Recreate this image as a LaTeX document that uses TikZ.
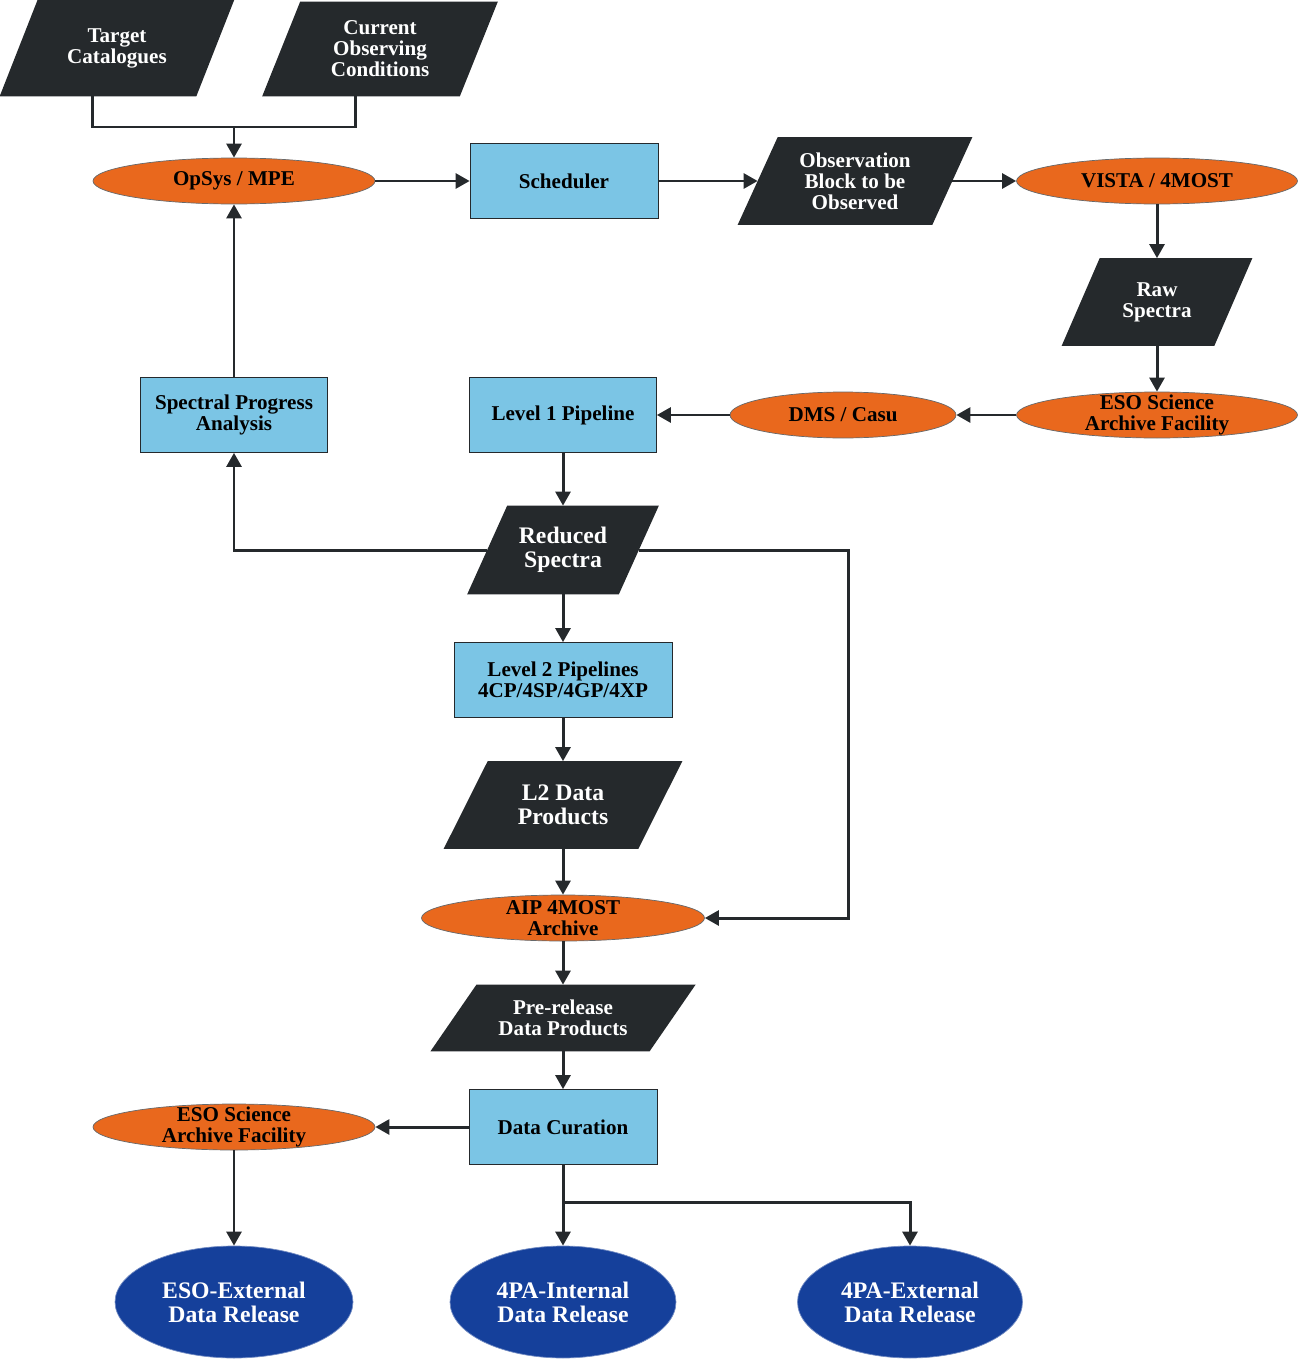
\documentclass[tikz,border=0pt]{standalone}
\usepackage{fontspec}
\setmainfont{Liberation Serif}
\usetikzlibrary{arrows.meta,shapes.geometric,backgrounds}
\definecolor{slate}{RGB}{37,41,44}
\definecolor{flame}{RGB}{233,104,29}
\definecolor{sky}{RGB}{123,197,229}
\definecolor{royal}{RGB}{21,64,155}
\tikzset{
  base/.style={align=center,font=\fontsize{12}{12}\selectfont\bfseries},
  big/.style={font=\fontsize{13.5}{13.8}\selectfont\bfseries},
  datum/.style={base,rectangle,text=white,minimum height=1.74cm},
  proc/.style={base,rectangle,fill=sky,draw=slate,thin,minimum width=3.76cm,minimum height=1.5cm},
  site/.style={base,ellipse,fill=flame,draw=slate!70,thin,minimum width=5.64cm,
    minimum height=0.92cm,inner xsep=0pt,inner ysep=-6pt},
  release/.style={big,align=center,ellipse,fill=royal,draw=royal!60,text=white,
    minimum width=4.52cm,minimum height=2.24cm},
  link/.style={draw=slate,line width=1.7pt},
  arrow/.style={link,-{Triangle[width=8.5pt,length=8pt]}}
}
\begin{document}
\begin{tikzpicture}[x=0.02cm,y=-0.02cm]
  \useasboundingbox (0,0) rectangle (1299,1359);
  \node[datum,minimum width=3.92cm,minimum height=1.92cm] (cat) at (117,48) {Target\\Catalogues};
  \node[datum,minimum width=3.94cm,minimum height=1.88cm] (cond) at (380,49) {Current\\Observing\\Conditions};
  \node[site] (opsys) at (234,181) {OpSys / MPE};
  \node[proc] (sched) at (564,181) {Scheduler};
  \node[datum,minimum width=3.88cm] (block) at (855,181) {Observation\\Block to be\\Observed};
  \node[site,minimum width=5.62cm] (vista) at (1157,181) {VISTA / 4MOST};
  \node[datum,minimum width=3.04cm] (raw) at (1157,302) {Raw\\Spectra};
  \node[site,minimum width=5.62cm] (esoin) at (1157,415) {ESO Science\\Archive Facility};
  \node[site,minimum width=4.52cm] (dms) at (843,415) {DMS / Casu};
  \node[proc,minimum width=3.74cm] (lvlone) at (563,415) {Level 1 Pipeline};
  \node[proc,minimum width=3.74cm] (progress) at (234,415) {Spectral Progress\\Analysis};
  \node[datum,big,minimum width=3.02cm,minimum height=1.76cm] (reduced) at (563,550) {Reduced\\Spectra};
  \node[proc,minimum width=4.36cm] (lvltwo) at (563,680) {Level 2 Pipelines\\4CP/4SP/4GP/4XP};
  \node[datum,big,minimum width=3.88cm] (ltwo) at (563,805) {L2 Data\\Products};
  \node[site,minimum width=5.66cm] (aip) at (563,918) {AIP 4MOST\\Archive};
  \node[datum,minimum width=4.37cm,minimum height=1.32cm] (pre) at (563,1018) {Pre-release\\Data Products};
  \node[proc] (curation) at (563,1127) {Data Curation};
  \node[site] (esoout) at (234,1127) {ESO Science\\Archive Facility};
  \node[release,minimum width=4.76cm] (esoext) at (234,1302) {ESO-External\\Data Release};
  \node[release] (paint) at (563,1302) {4PA-Internal\\Data Release};
  \node[release,minimum width=4.5cm] (paext) at (910,1302) {4PA-External\\Data Release};

  \begin{scope}[on background layer]
    \foreach \n/\s in {cat/19,cond/19,block/20,raw/19,reduced/20,ltwo/22,pre/23}
      \fill[slate] ([xshift=-\s*0.02cm]\n.south west) -- ([xshift=-\s*0.02cm]\n.south east)
        -- ([xshift=\s*0.02cm]\n.north east) -- ([xshift=\s*0.02cm]\n.north west) -- cycle;
  \end{scope}

  \coordinate (merge) at (234,127);
  \coordinate (bypass) at (848,550);
  \coordinate (split) at (563,1202);

  \draw[link] (cat.-117) |- (merge) -| (cond.-117);
  \draw[arrow] (merge) -- (opsys);
  \draw[arrow] (opsys) -- (sched);
  \draw[arrow] (sched) -- (block);
  \draw[arrow] (block) -- (vista);
  \draw[arrow] (vista) -- (raw);
  \draw[arrow] (raw) -- (esoin);
  \draw[arrow] (esoin) -- (dms);
  \draw[arrow] (dms) -- (lvlone);
  \draw[arrow] (lvlone) -- (reduced);
  \draw[arrow] (reduced.west) -| (progress);
  \draw[arrow] (progress) -- (opsys);
  \draw[arrow] (reduced.east) -- (bypass) |- (aip.east);
  \draw[arrow] (reduced) -- (lvltwo);
  \draw[arrow] (lvltwo) -- (ltwo);
  \draw[arrow] (ltwo) -- (aip);
  \draw[arrow] (aip) -- (pre);
  \draw[arrow] (pre) -- (curation);
  \draw[arrow] (curation) -- (esoout);
  \draw[arrow] (esoout) -- (esoext);
  \draw[arrow] (curation) -- (paint);
  \draw[arrow] (split) -| (paext);
\end{tikzpicture}
\end{document}
